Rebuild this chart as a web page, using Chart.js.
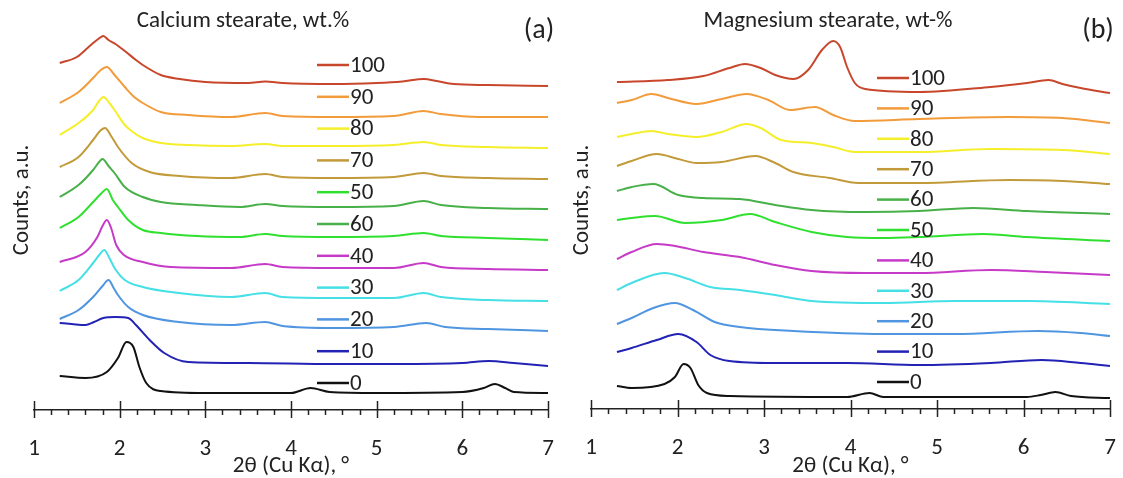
<!DOCTYPE html>
<html>
<head>
<meta charset="utf-8">
<script src="https://cdn.jsdelivr.net/npm/chart.js@4"></script>
<style>
  body { margin: 0; background: #fff; }
  #wrap { position: relative; width: 1123px; height: 478px; }
  canvas { position: absolute; top: 0; }
</style>
</head>
<body>
<div id="wrap">
  <canvas id="chartA" width="560" height="478" style="left:0"></canvas>
  <canvas id="chartB" width="563" height="478" style="left:560px"></canvas>
</div>
<script>
// Tick labels of the 2θ axis
const xTickLabels = [1, 2, 3, 4, 5, 6, 7];

// Legend order (as in the figure)
const labelsA = ['100', '90', '80', '70', '50', '60', '40', '30', '20', '10', '0'];
const labelsB = ['100', '90', '80', '70', '60', '50', '40', '30', '20', '10', '0'];

// (a) Calcium stearate — [2θ, counts (a.u., stacked)]
const ca100 = [[1.3,347],[1.5,353],[1.65,364],[1.75,371],[1.81,374],[1.87,370],[1.95,366],[2.06,359],[2.19,350],[2.27,345],[2.48,335],[2.7,331],[3.0,328],[3.5,327],[3.7,328.5],[3.9,327],[4.5,326],[5.0,327],[5.3,328.5],[5.55,331],[5.7,329],[5.9,326],[6.3,325],[7.0,324]];
const ca90 = [[1.3,307],[1.52,318],[1.69,332],[1.78,340],[1.85,343],[1.94,335],[2.06,323],[2.17,313],[2.27,307],[2.48,298],[2.8,295],[3.3,293],[3.7,297],[3.9,294],[4.5,293],[5.2,294],[5.55,299],[5.75,296],[6.2,293],[7.0,293]];
const ca80 = [[1.3,275],[1.52,287],[1.69,300],[1.76,309],[1.81,313],[1.88,307],[1.94,300],[2.06,285],[2.17,277],[2.27,272],[2.48,267],[2.8,265],[3.3,264],[3.7,266],[3.9,264],[4.5,264],[5.2,265],[5.55,268],[5.75,265],[6.3,263],[7.0,262]];
const ca70 = [[1.3,243],[1.52,253],[1.69,270],[1.77,279],[1.83,282],[1.9,274],[1.98,263],[2.14,247],[2.35,238],[2.7,234],[3.3,232],[3.7,236],[3.9,233],[4.5,232],[5.2,233],[5.55,237],[5.75,234],[6.3,232],[7.0,231]];
const ca60 = [[1.3,213],[1.52,225],[1.69,240],[1.76,248],[1.8,251],[1.87,244],[1.94,237],[2.06,223],[2.27,213],[2.48,208],[2.9,205],[3.4,203],[3.7,206],[3.9,204],[4.5,203],[5.2,204],[5.55,209],[5.75,205],[6.3,202],[7.0,201]];
const ca50 = [[1.3,182],[1.52,193],[1.69,208],[1.79,217],[1.85,221],[1.92,210],[1.98,203],[2.1,190],[2.27,180],[2.48,177],[2.9,174],[3.4,173],[3.7,176],[3.9,174],[4.5,173],[5.2,174],[5.55,177],[5.75,174],[6.3,172],[7.0,170]];
const ca40 = [[1.3,148],[1.6,158],[1.74,173],[1.8,184],[1.85,190],[1.9,182],[1.96,165],[2.05,155],[2.27,148],[2.6,143],[3.3,142],[3.7,146],[3.9,143],[4.5,142],[5.2,142],[5.55,147],[5.75,143],[6.3,141],[7.0,140]];
const ca30 = [[1.3,119],[1.52,130],[1.69,147],[1.77,156],[1.82,160],[1.88,152],[1.94,142],[2.06,130],[2.27,123],[2.69,117],[3.3,113],[3.7,117],[3.9,113],[4.5,112],[5.2,112],[5.55,117],[5.75,113],[6.3,110],[7.0,109]];
const ca20 = [[1.3,91],[1.52,100],[1.69,113],[1.8,124],[1.87,130],[1.93,122],[1.98,115],[2.1,103],[2.27,95],[2.69,88],[3.3,85],[3.7,88],[3.9,84],[4.5,82],[5.2,83],[5.58,87],[5.8,83],[6.3,81],[7.0,79]];
const ca10 = [[1.3,87],[1.44,86],[1.6,85],[1.7,88],[1.81,92],[1.95,93],[2.1,92],[2.19,85],[2.35,70],[2.52,57],[2.8,48],[3.5,47],[4.5,46],[5.2,46],[6.0,47],[6.31,49],[6.6,47],[7.0,44]];
const ca0 = [[1.3,34],[1.6,32],[1.85,38],[1.98,52],[2.08,68],[2.16,63],[2.23,43],[2.31,27],[2.48,19],[3.0,17],[4.0,17],[4.23,22],[4.45,18],[5.0,17],[6.0,18],[6.25,22],[6.38,26],[6.5,22],[6.6,18],[7.0,17]];

// (b) Magnesium stearate — [2θ, counts (a.u., stacked)]
const mg100 = [[1.3,327],[1.89,329],[2.3,333],[2.6,341],[2.78,345],[2.96,341],[3.13,334],[3.34,330],[3.51,339],[3.67,359],[3.8,368],[3.88,362],[3.96,342],[4.05,326],[4.17,320],[4.79,317],[5.62,322],[6.04,326],[6.29,329],[6.45,325],[6.66,321],[7.0,316]];
const mg90 = [[1.3,306],[1.47,309],[1.7,315],[1.89,311],[2.22,305],[2.51,310],[2.8,315],[3.05,309],[3.3,299],[3.59,302],[3.8,294],[4.05,288],[4.79,290],[5.83,292],[6.45,291],[7.0,286]];
const mg80 = [[1.3,272],[1.47,275],[1.7,278],[1.89,275],[2.22,272],[2.51,277],[2.8,285],[2.96,281],[3.2,269],[3.55,266],[3.8,262],[4.05,257],[4.79,257],[5.62,260],[6.45,259],[7.0,255]];
const mg70 = [[1.3,243],[1.47,248],[1.76,255],[2.01,250],[2.22,246],[2.51,247],[2.9,253],[3.13,246],[3.34,237],[3.76,231],[4.09,226],[4.79,226],[5.83,229],[6.45,228],[7.0,225]];
const mg60 = [[1.3,218],[1.47,222],[1.72,225],[2.01,214],[2.3,211],[2.72,210],[3.13,204],[3.55,199],[4.17,197],[4.79,198],[5.42,201],[6.04,198],[7.0,195]];
const mg50 = [[1.3,189],[1.47,191],[1.74,193],[2.09,186],[2.51,189],[2.84,195],[3.13,187],[3.55,177],[3.96,172],[4.38,171],[4.79,172],[5.54,175],[6.04,172],[7.0,168]];
const mg40 = [[1.3,150],[1.47,157],[1.76,165],[1.97,163],[2.3,157],[2.72,152],[3.13,144],[3.55,138],[4.17,136],[4.79,136],[5.62,139],[6.25,137],[7.0,134]];
const mg30 = [[1.3,119],[1.47,126],[1.85,136],[2.09,131],[2.38,122],[2.72,119],[3.13,114],[3.55,108],[4.38,106],[5.21,108],[6.04,108],[7.0,105]];
const mg20 = [[1.3,85],[1.47,91],[1.72,101],[1.97,106],[2.18,99],[2.43,87],[2.72,82],[3.34,78],[4.38,75],[5.21,75],[6.17,78],[6.66,76],[7.0,73]];
const mg10 = [[1.3,57],[1.47,61],[1.76,69],[2.01,75],[2.22,67],[2.38,54],[2.6,48],[3.13,46],[3.96,46],[4.79,44],[5.62,46],[6.21,49],[6.66,46],[7.0,43]];
const mg0 = [[1.3,23],[1.47,21],[1.85,25],[1.97,32],[2.07,45],[2.15,41],[2.24,24],[2.34,16],[2.6,13],[3.96,12],[4.22,16],[4.38,12],[6.04,12],[6.2,14],[6.37,17],[6.55,13],[7.0,11]];

const seriesA = [ca100, ca90, ca80, ca70, ca50, ca60, ca40, ca30, ca20, ca10, ca0];
const seriesB = [mg100, mg90, mg80, mg70, mg60, mg50, mg40, mg30, mg20, mg10, mg0];

const lineColors = {
    '100': '#c8472c', '90': '#f29b3a', '80': '#f5ee2a', '70': '#c39a3a',
    '60': '#48b048', '50': '#2fe02f', '40': '#c63ac8', '30': '#45dfe6',
    '20': '#4f95e0', '10': '#2222b4', '0': '#111111'
};

const FONT = 'Carlito, Calibri, Lato, sans-serif';
const TEXT = '#222';

// Axis ticks (major crossing the axis, minor below) + texts + legend
const decorPlugin = {
    id: 'decor',
    afterDraw(chart, args, opts) {
        const ctx = chart.ctx;
        const xs = chart.scales.x;
        const yAxis = chart.chartArea.bottom;
        ctx.save();
        ctx.strokeStyle = '#222';
        ctx.lineWidth = 1.5;
        for (let i = 0; i <= 30; i++) {
            const px = Math.round(xs.getPixelForValue(1 + i * 0.2)) + 0.5;
            const major = i % 5 === 0;
            ctx.beginPath();
            ctx.moveTo(px, major ? yAxis - 9 : yAxis);
            ctx.lineTo(px, major ? yAxis + 8 : yAxis + 5);
            ctx.stroke();
        }

        // legend
        ctx.font = '23px ' + FONT;
        ctx.textBaseline = 'middle';
        ctx.textAlign = 'left';
        chart.data.datasets.forEach((ds, i) => {
            const y = opts.legendTop + i * opts.legendStep;
            ctx.strokeStyle = ds.borderColor;
            ctx.lineWidth = 2.5;
            ctx.beginPath();
            ctx.moveTo(317, y);
            ctx.lineTo(349, y);
            ctx.stroke();
            ctx.fillStyle = TEXT;
            ctx.fillText(ds.label, 350, y + 1);
        });

        // titles
        ctx.fillStyle = TEXT;
        ctx.textAlign = 'center';
        ctx.font = '23px ' + FONT;
        ctx.fillText(opts.title, opts.titleX, 21);
        ctx.font = '28px ' + FONT;
        ctx.fillText(opts.tag, opts.tagX, 31);

        // y label
        ctx.font = '23px ' + FONT;
        ctx.translate(opts.yLabelX, 200);
        ctx.rotate(-Math.PI / 2);
        ctx.fillText('Counts, a.u.', 0, 0);
        ctx.restore();
    }
};

function makeChart(id, labels, series, pad, axisHeight, decor) {
    return new Chart(document.getElementById(id), {
        type: 'line',
        data: {
            datasets: labels.map((lab, i) => ({
                label: lab,
                data: series[i],
                borderColor: lineColors[lab],
                borderWidth: 2,
                pointRadius: 0,
                fill: false,
                cubicInterpolationMode: 'monotone'
            }))
        },
        options: {
            responsive: false,
            animation: false,
            devicePixelRatio: 1,
            layout: { padding: pad },
            plugins: {
                legend: { display: false },
                tooltip: { enabled: false },
                decor: decor
            },
            scales: {
                x: {
                    type: 'linear',
                    min: 1,
                    max: 7,
                    grid: { display: false },
                    border: { display: true, color: '#222', width: 1.5 },
                    afterBuildTicks(scale) {
                        scale.ticks = xTickLabels.map(v => ({ value: v }));
                    },
                    afterFit(scale) {
                        scale.height = axisHeight;
                        scale.paddingLeft = 0;
                        scale.paddingRight = 0;
                    },
                    ticks: {
                        autoSkip: false,
                        maxRotation: 0,
                        padding: 17,
                        color: TEXT,
                        font: { family: FONT, size: 23 }
                    },
                    title: {
                        display: true,
                        text: '2θ (Cu Kα), °',
                        color: TEXT,
                        font: { family: FONT, size: 23 },
                        padding: { top: 0, bottom: -2 }
                    }
                },
                y: { display: false, min: 0, max: 400 }
            }
        },
        plugins: [decorPlugin]
    });
}

makeChart('chartA', labelsA, seriesA, { left: 34, right: 12, top: 10, bottom: 0 }, 68,
    { legendTop: 65, legendStep: 31.8, title: 'Calcium stearate, wt.%', titleX: 243, tag: '(a)', tagX: 539, yLabelX: 22 });
makeChart('chartB', labelsB, seriesB, { left: 31, right: 13, top: 9, bottom: 0 }, 69,
    { legendTop: 78, legendStep: 30.4, title: 'Magnesium stearate, wt-%', titleX: 268, tag: '(b)', tagX: 538, yLabelX: 22 });
</script>
</body>
</html>
